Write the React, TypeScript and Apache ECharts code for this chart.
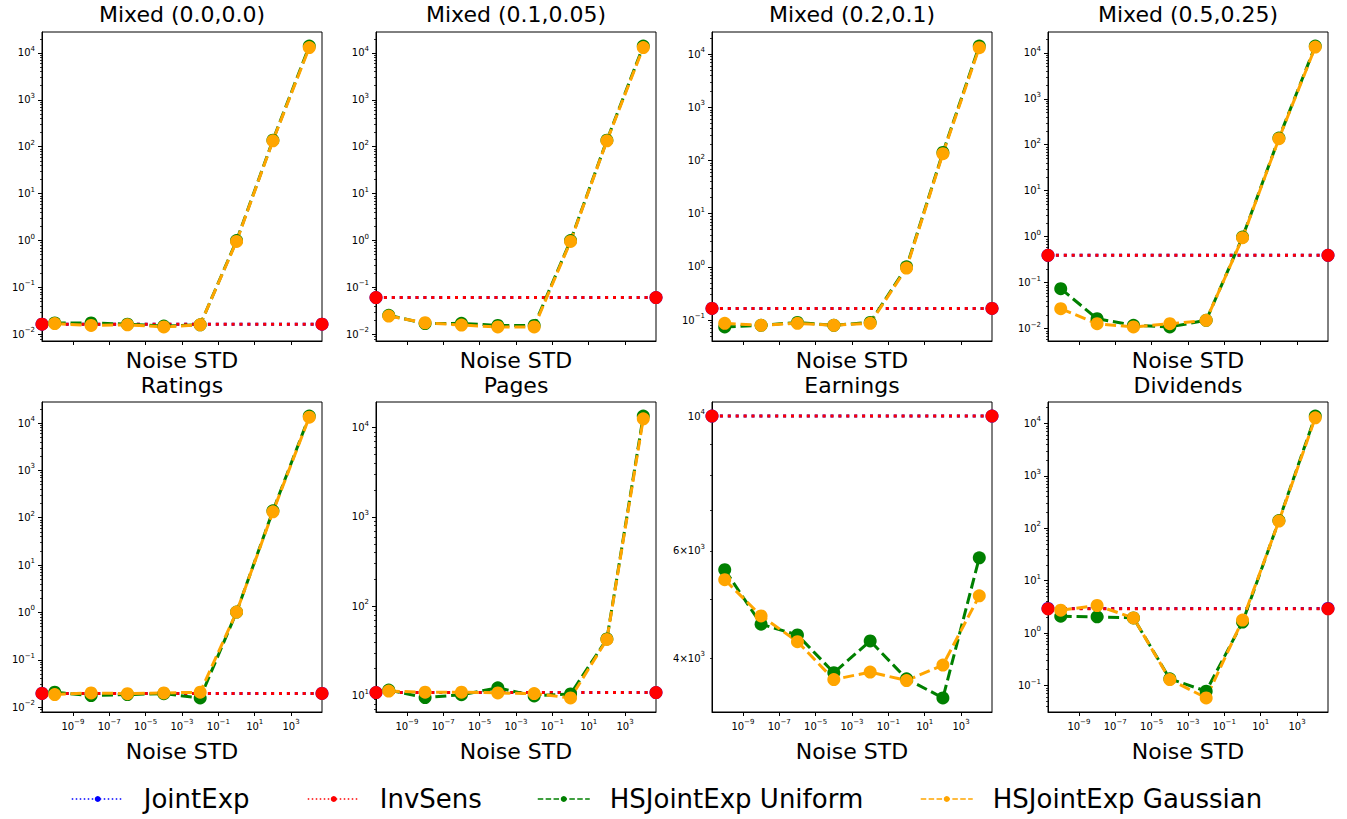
import React, { useEffect, useRef } from "react";
import * as echarts from "echarts";

const FONT = "DejaVu Sans";

// ---------------- data ----------------
const noiseStd = [1e-10, 1e-8, 1e-6, 1e-4, 1e-2, 1, 1e2, 1e4];
const xTickLabelExps = [-9, -7, -5, -3, -1, 1, 3];

const panelTitles = [
  "Mixed (0.0,0.0)",
  "Mixed (0.1,0.05)",
  "Mixed (0.2,0.1)",
  "Mixed (0.5,0.25)",
  "Ratings",
  "Pages",
  "Earnings",
  "Dividends",
];
const seriesNames = ["JointExp", "InvSens", "HSJointExp Uniform", "HSJointExp Gaussian"];
const seriesColors = ["#0000ff", "#ff0000", "#008000", "#ffa500"];

const jointExp = [0.0165, 0.061, 0.165, 0.393, 0.0195, 10.8, 10000, 2.95];
const invSens = [0.0165, 0.061, 0.165, 0.393, 0.0195, 10.8, 10000, 2.9];

const uniformMixed00 = [0.0175, 0.0175, 0.0165, 0.015, 0.016, 1.0, 138, 14000];
const gaussianMixed00 = [0.017, 0.0155, 0.016, 0.0144, 0.016, 0.96, 134, 13000];
const uniformMixed01 = [0.0255, 0.017, 0.0172, 0.0155, 0.0155, 1.0, 138, 14000];
const gaussianMixed01 = [0.0246, 0.0177, 0.0158, 0.0144, 0.0144, 0.96, 134, 13000];
const uniformMixed02 = [0.074, 0.0795, 0.09, 0.0795, 0.09, 1.0, 142, 14300];
const gaussianMixed02 = [0.0867, 0.0795, 0.0867, 0.0795, 0.0867, 0.95, 135, 13300];
const uniformMixed05 = [0.074, 0.0165, 0.0118, 0.0109, 0.0152, 0.98, 140, 14000];
const gaussianMixed05 = [0.0272, 0.0128, 0.0109, 0.0128, 0.0152, 0.95, 135, 13300];
const uniformRatings = [0.0207, 0.0176, 0.0185, 0.0193, 0.0157, 1.02, 140, 14000];
const gaussianRatings = [0.0185, 0.02, 0.0193, 0.02, 0.0207, 1.02, 133, 13300];
const uniformPages = [11.5, 9.5, 10.2, 12.2, 9.9, 10.4, 43, 13500];
const gaussianPages = [11.2, 10.9, 10.9, 10.7, 10.5, 9.4, 42.5, 12600];
const uniformEarnings = [5590, 4547, 4366, 3784, 4268, 3698, 3440, 5848];
const gaussianEarnings = [5382, 4693, 4257, 3688, 3793, 3674, 3895, 5063];
const uniformDividends = [2.1, 2.04, 1.95, 0.134, 0.078, 1.62, 140, 13800];
const gaussianDividends = [2.74, 3.36, 1.95, 0.13, 0.058, 1.77, 137, 12800];

const uniformAll = [
  uniformMixed00, uniformMixed01, uniformMixed02, uniformMixed05,
  uniformRatings, uniformPages, uniformEarnings, uniformDividends,
];
const gaussianAll = [
  gaussianMixed00, gaussianMixed01, gaussianMixed02, gaussianMixed05,
  gaussianRatings, gaussianPages, gaussianEarnings, gaussianDividends,
];

// extra labelled minor ticks (only Earnings has a sub-decade range)
const earningsMinorLabels = [4000, 6000];
const minorLabelValues = [[], [], [], [], [], [], earningsMinorLabels, []];

// ---------------- layout ----------------
const gridLefts = [42, 376, 712, 1048];
const gridTops = [32, 402];
const gridHeights = [309, 310];
const GRID_W = 280;
const legendLefts = [71, 307, 537, 920];

const log10 = Math.log10;

function supLabel(v: number): string {
  const n = Math.round(v);
  const expStr = (e: number) => (e < 0 ? "\u2212" + -e : String(e));
  if (Math.abs(v - n) < 1e-6) return `{b|10}{s|${expStr(n)}}`;
  const e = Math.floor(v + 1e-9);
  const m = Math.round(Math.pow(10, v - e));
  return `{b|${m}\u00d710}{s|${expStr(e)}}`;
}

const rich = {
  b: { fontSize: 10, fontFamily: FONT, color: "#000", lineHeight: 12, verticalAlign: "middle" },
  s: { fontSize: 7, fontFamily: FONT, color: "#000", lineHeight: 8, padding: [0, 0, 8, 0], verticalAlign: "middle" },
};

function buildOption() {
  const xs = noiseStd.map(log10);
  const xLo = Math.min(...xs);
  const xHi = Math.max(...xs);
  const xPad = 0.05 * (xHi - xLo);
  const xMin = xLo - xPad;
  const xMax = xHi + xPad;

  const grids: any[] = [];
  const xAxes: any[] = [];
  const yAxes: any[] = [];
  const series: any[] = [];
  const graphics: any[] = [];

  for (let i = 0; i < 8; i++) {
    const row = Math.floor(i / 4);
    const col = i % 4;
    const left = gridLefts[col];
    const top = gridTops[row];
    const h = gridHeights[row];

    const allVals = [jointExp[i], invSens[i], ...uniformAll[i], ...gaussianAll[i]].map(log10);
    const lo = Math.min(...allVals);
    const hi = Math.max(...allVals);
    const pad = 0.05 * (hi - lo);
    const yMin = lo - pad;
    const yMax = hi + pad;

    const majors: number[] = [];
    for (let n = Math.ceil(yMin); n <= Math.floor(yMax); n++) majors.push(n);
    const minors: number[] = [];
    for (let n = Math.floor(yMin); n <= Math.ceil(yMax); n++) {
      for (let k = 2; k <= 9; k++) {
        const v = n + log10(k);
        if (v >= yMin && v <= yMax) minors.push(v);
      }
    }
    const labels = majors.concat(minorLabelValues[i].map(log10));

    grids.push({
      left,
      top,
      width: GRID_W,
      height: h,
      show: true,
      borderColor: "#000",
      borderWidth: 1,
      backgroundColor: "transparent",
      containLabel: false,
      outerBoundsMode: "none",
    });

    xAxes.push({
      type: "value",
      gridIndex: i,
      min: xMin,
      max: xMax,
      axisLine: { show: true, onZero: false, lineStyle: { color: "#000", width: 1 } },
      axisTick: { show: true, customValues: xTickLabelExps, length: 4, lineStyle: { color: "#000", width: 1 } },
      axisLabel: {
        show: row === 1,
        customValues: xTickLabelExps,
        formatter: (v: number) => supLabel(v),
        rich,
        margin: 8,
      },
      splitLine: { show: false },
      name: "Noise STD",
      nameLocation: "middle",
      nameGap: row === 0 ? 19 : 39,
      nameTextStyle: { fontSize: 22, fontFamily: FONT, color: "#000", verticalAlign: "middle" },
    });

    yAxes.push({
      type: "value",
      gridIndex: i,
      position: "left",
      min: yMin,
      max: yMax,
      axisLine: { show: true, onZero: false, lineStyle: { color: "#000", width: 1 } },
      axisTick: { show: true, customValues: majors, length: 4, lineStyle: { color: "#000", width: 1 } },
      axisLabel: {
        show: true,
        customValues: labels,
        formatter: (v: number) => supLabel(v),
        rich,
        margin: 7,
      },
      splitLine: { show: false },
    });
    yAxes.push({
      type: "value",
      gridIndex: i,
      position: "left",
      offset: 0,
      min: yMin,
      max: yMax,
      axisLine: { show: false, onZero: false },
      axisTick: { show: true, customValues: minors, length: 2, lineStyle: { color: "#000", width: 0.8 } },
      axisLabel: { show: false },
      splitLine: { show: false },
    });

    const flat = [jointExp[i], invSens[i]];
    flat.forEach((val, k) => {
      series.push({
        name: seriesNames[k],
        type: "line",
        xAxisIndex: i,
        yAxisIndex: 2 * i,
        data: [
          [xMin, log10(val)],
          [xMax, log10(val)],
        ],
        symbol: "circle",
        symbolSize: 13,
        clip: false,
        silent: true,
        itemStyle: { color: seriesColors[k] },
        lineStyle: { color: seriesColors[k], width: 3, type: [3, 4.9] },
      });
    });
    [uniformAll[i], gaussianAll[i]].forEach((vals, kk) => {
      const k = kk + 2;
      series.push({
        name: seriesNames[k],
        type: "line",
        xAxisIndex: i,
        yAxisIndex: 2 * i,
        data: noiseStd.map((x, j) => [log10(x), log10(vals[j])]),
        symbol: "circle",
        symbolSize: 13,
        clip: false,
        silent: true,
        itemStyle: { color: seriesColors[k] },
        lineStyle: { color: seriesColors[k], width: 3, type: [11, 4.8] },
      });
    });

    graphics.push({
      type: "text",
      x: left + GRID_W / 2,
      y: row === 0 ? 14.5 : 385.5,
      silent: true,
      style: {
        text: panelTitles[i],
        fontSize: 22,
        fontFamily: FONT,
        fill: "#000",
        align: "center",
        verticalAlign: "middle",
        textAlign: "center",
        textVerticalAlign: "middle",
      },
    });
  }

  const legends = seriesNames.map((n, k) => ({
    data: [n],
    left: legendLefts[k],
    top: 786,
    padding: 0,
    itemWidth: 52,
    itemHeight: 7.5,
    itemGap: 0,
    selectedMode: false,
    textStyle: { fontSize: 26, fontFamily: FONT, color: "#000", padding: [0, 0, 0, 15] },
    lineStyle: { width: 1.5, type: k < 2 ? [1.5, 2.5] : [5.5, 2.4] },
  }));

  return {
    animation: false,
    backgroundColor: "#fff",
    textStyle: { fontFamily: FONT },
    grid: grids,
    xAxis: xAxes,
    yAxis: yAxes,
    series,
    legend: legends,
    graphic: graphics,
  };
}

export default function App() {
  const ref = useRef<HTMLDivElement>(null);
  useEffect(() => {
    const chart = echarts.init(ref.current!, null, { renderer: "svg" });
    chart.setOption(buildOption() as any);
    return () => chart.dispose();
  }, []);
  return (
    <div
      ref={ref}
      style={{ position: "absolute", left: 0, top: 0, width: 1347, height: 819 }}
    />
  );
}
